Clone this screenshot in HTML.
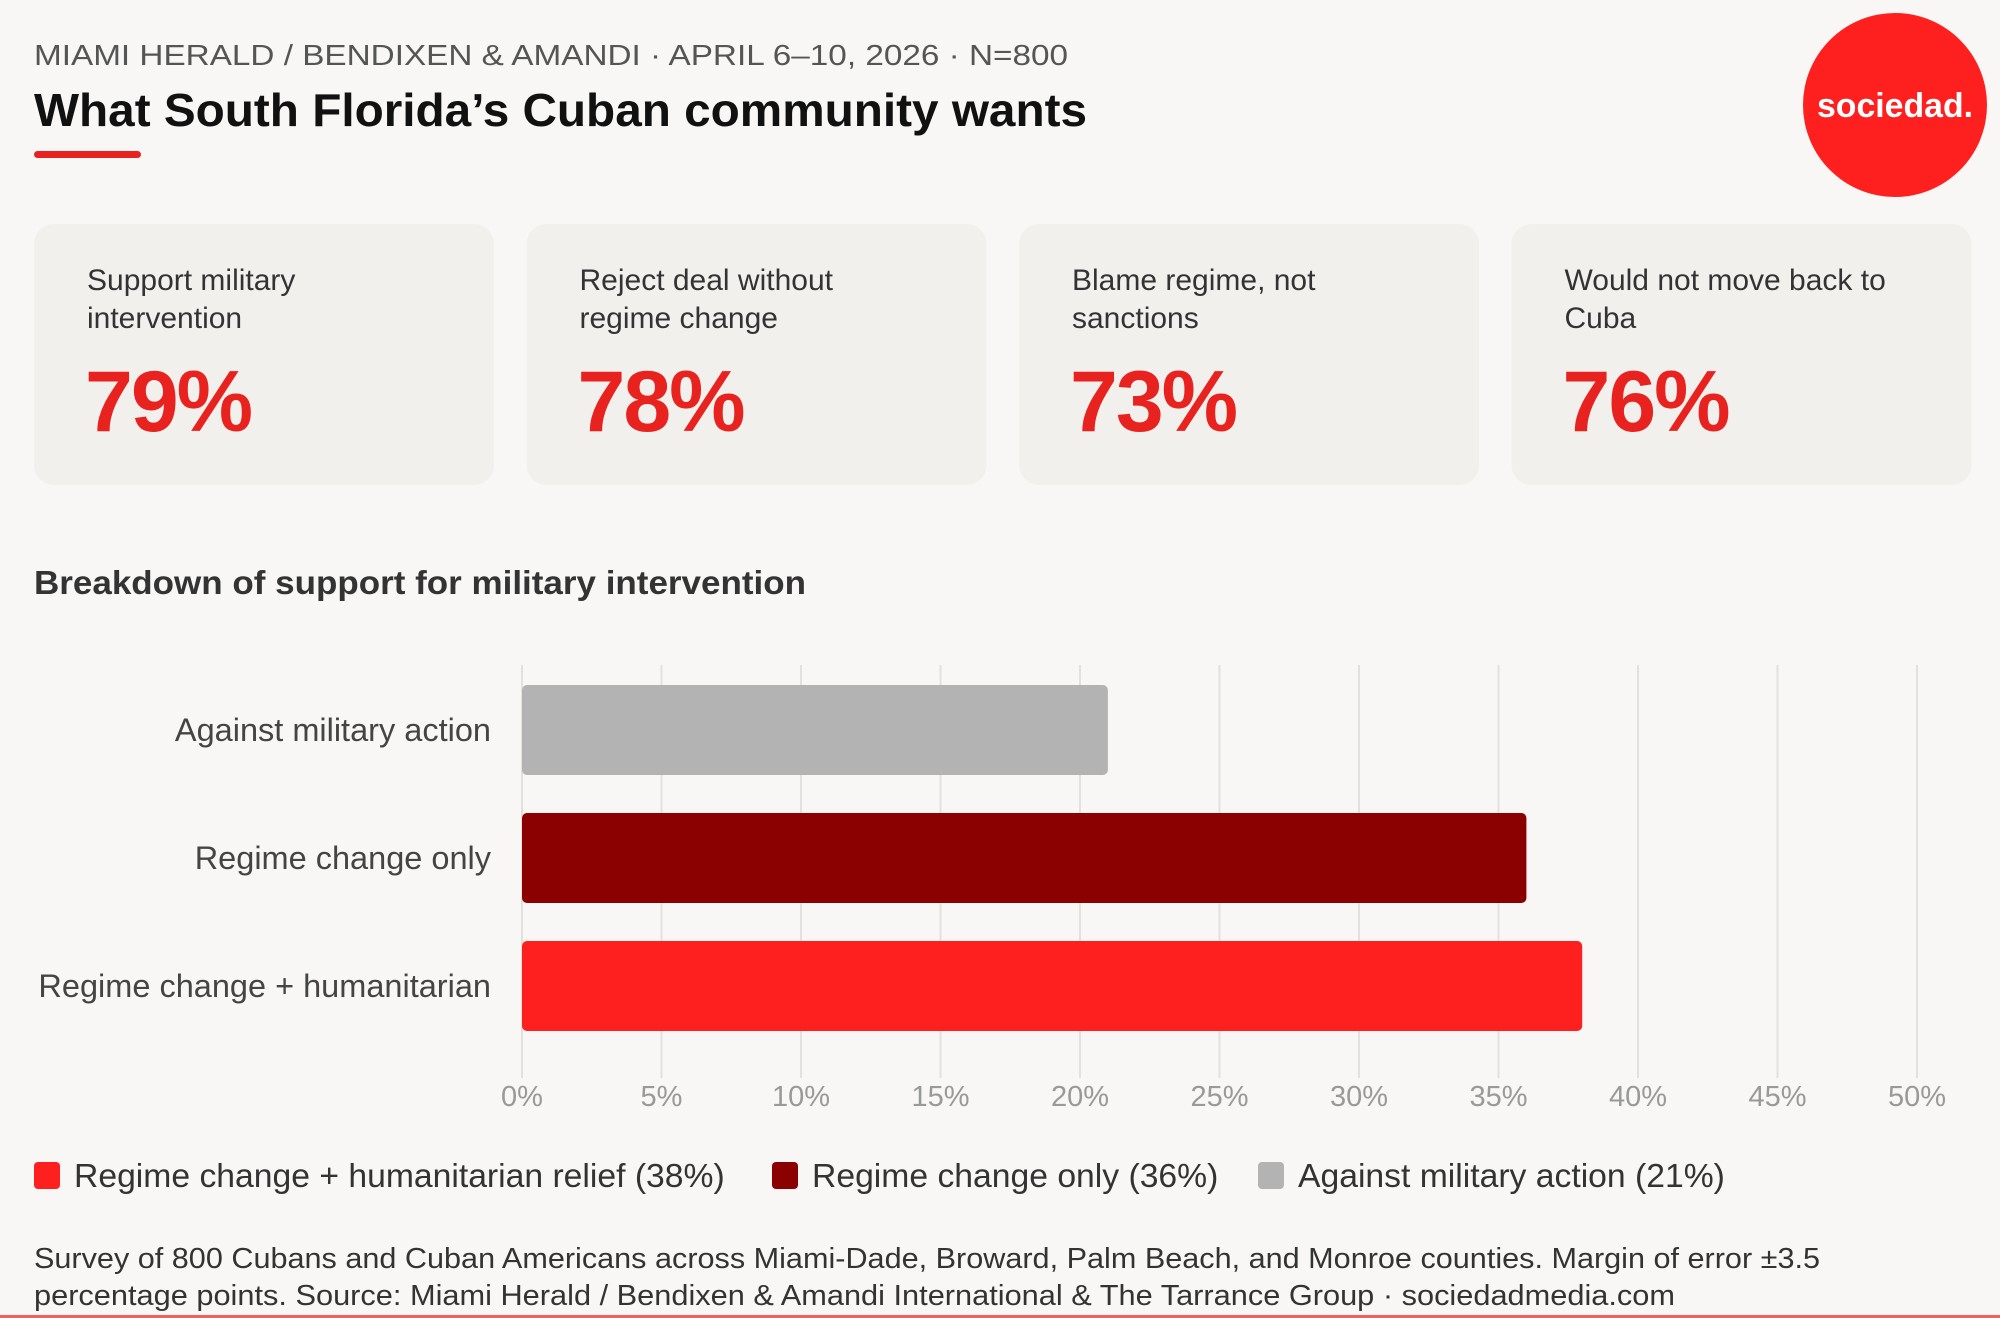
<!DOCTYPE html>
<html><head><meta charset="utf-8"><style>
html,body{margin:0;padding:0;background:#f8f7f5;}
svg{display:block;font-family:"Liberation Sans",sans-serif;}
</style></head><body>
<svg id="root" width="2000" height="1318" viewBox="0 0 2000 1318">
<rect x="0" y="0" width="2000" height="1318" fill="#f8f7f5"/>
<text x="34" y="65" font-size="29" fill="#555" textLength="1034" lengthAdjust="spacingAndGlyphs">MIAMI HERALD / BENDIXEN &amp; AMANDI · APRIL 6–10, 2026 · N=800</text>
<text x="34" y="126" font-size="46" font-weight="bold" fill="#111" textLength="1053" lengthAdjust="spacingAndGlyphs">What South Florida’s Cuban community wants</text>
<rect x="34" y="151" width="107" height="7" rx="3.5" fill="#e8231f"/>
<g>
<circle cx="1895" cy="105" r="92" fill="#fe1f1f"/>
<text x="1895" y="117" font-size="34" font-weight="bold" fill="#fff" text-anchor="middle" textLength="156" lengthAdjust="spacingAndGlyphs">sociedad.</text>
</g>
<g id="cards"></g>
<text x="34" y="594" font-size="33" font-weight="bold" fill="#333" textLength="772" lengthAdjust="spacingAndGlyphs">Breakdown of support for military intervention</text>
<g id="chart"></g>
<g id="legend"></g>
<text x="34" y="1268" font-size="29" fill="#333" textLength="1786" lengthAdjust="spacingAndGlyphs">Survey of 800 Cubans and Cuban Americans across Miami-Dade, Broward, Palm Beach, and Monroe counties. Margin of error ±3.5</text>
<text x="34" y="1305" font-size="29" fill="#333" textLength="1641" lengthAdjust="spacingAndGlyphs">percentage points. Source: Miami Herald / Bendixen &amp; Amandi International &amp; The Tarrance Group · sociedadmedia.com</text>
<rect x="0" y="1315" width="2000" height="3" fill="#e8231f" opacity="0.7"/>
</svg>
<script>
const cardLabels1 = ["Support military","Reject deal without","Blame regime, not","Would not move back to"];
const cardLabels2 = ["intervention","regime change","sanctions","Cuba"];
const cardValues = [79,78,73,76];
const categories = ["Against military action","Regime change only","Regime change + humanitarian"];
const values = [21,36,38];
const barColors = ["#b3b3b3","#8b0000","#fe1f1f"];
const ticks = [0,5,10,15,20,25,30,35,40,45,50];
const legendLabels = ["Regime change + humanitarian relief (38%)","Regime change only (36%)","Against military action (21%)"];
const legendValues = [38,36,21];
const legendColors = ["#fe1f1f","#8b0000","#b3b3b3"];

const NS="http://www.w3.org/2000/svg";
function mk(tag,attrs,parent,txt){const e=document.createElementNS(NS,tag);for(const k in attrs)e.setAttribute(k,attrs[k]);if(txt!==undefined)e.textContent=txt;parent.appendChild(e);return e;}

const cards=document.getElementById('cards');
cardValues.forEach((v,i)=>{
  const x=34+i*492.5;
  const g=mk('g',{},cards);
  
  
  mk('rect',{x:x,y:224,width:460,height:261,rx:20,fill:'#f2f0ed'},g);
  mk('text',{x:x+53,y:290,'font-size':30,fill:'#333'},g,cardLabels1[i]);
  mk('text',{x:x+53,y:328,'font-size':30,fill:'#333'},g,cardLabels2[i]);
  const t=mk('text',{x:x+51,y:431,'font-size':86,'font-weight':'bold',fill:'#e8231f','letter-spacing':'-2'},g,v+'%');
  
  
});

const chart=document.getElementById('chart');
const x0=522,x1=1917,xmax=50;
const xs=v=>x0+(v/xmax)*(x1-x0);
const yTop=665,yBot=1078,band=128,barH=90,barY0=685;
ticks.forEach(t=>{
  const l=mk('line',{x1:xs(t),x2:xs(t),y1:yTop,y2:yBot,stroke:'#e3e1de','stroke-width':2},chart);
  
  
  const tx=mk('text',{x:xs(t),y:1106,'font-size':29,fill:'#999','text-anchor':'middle'},chart,t+'%');
  
  
});
categories.forEach((c,i)=>{
  const y=barY0+i*band;
  const r=mk('rect',{x:xs(0),y:y,width:xs(values[i])-xs(0),height:barH,rx:5,fill:barColors[i]},chart);
  
  
  const t=mk('text',{x:491,y:y+barH/2+11,'font-size':32.5,fill:'#444','text-anchor':'end'},chart,c);
  
  
});

const legend=document.getElementById('legend');
const lx=[34,772,1258];
legendLabels.forEach((l,i)=>{
  const g=mk('g',{},legend);
  
  
  mk('rect',{x:lx[i],y:1162,width:26,height:27,rx:4,fill:legendColors[i]},g);
  mk('text',{x:lx[i]+40,y:1187,'font-size':33.7,fill:'#333'},g,l);
});
</script>
</body></html>
